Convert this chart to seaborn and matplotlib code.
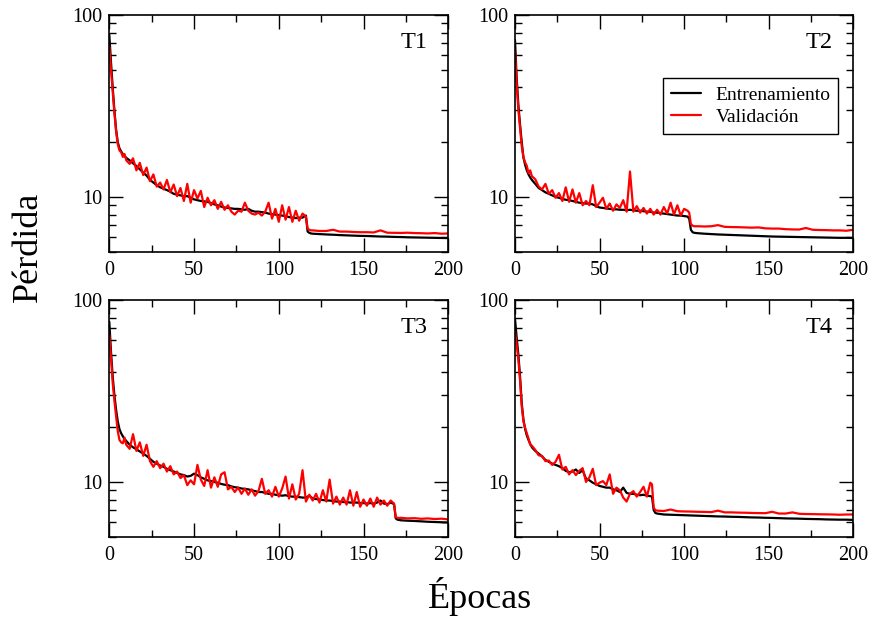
import matplotlib
matplotlib.use("Agg")
import matplotlib.pyplot as plt
import numpy as np
import pandas as pd
import seaborn as sns
from matplotlib.ticker import MultipleLocator, FixedLocator, LogLocator, NullFormatter, FuncFormatter

# ---------------- data ----------------
t1_epoch = list(range(0, 11)) + list(range(12, 117, 2)) + [117, 118, 119] + list(range(120, 201, 4))
t1_train = ([78, 55, 40, 30, 23.5, 20.0, 18.5, 17.8, 17.2, 16.8, 16.4] +
            [15.9, 15.3, 14.8, 14.2, 13.6, 13.1, 12.4, 12.0, 11.6, 11.3, 11.1, 10.9, 10.7, 10.4, 10.3, 10.2,
             10.1, 10.1, 9.9, 9.7, 9.6, 9.5, 9.45, 9.4, 9.25, 9.1, 9.0, 8.85, 8.75, 8.7, 8.65, 8.6, 8.6, 8.55,
             8.5, 8.6, 8.4, 8.3, 8.3, 8.25, 8.2, 8.1, 8.05, 8.0, 7.95, 7.9, 7.85, 7.75, 7.7, 7.65, 7.7, 7.7, 7.9] +
            [6.45, 6.35, 6.3] +
            [6.28, 6.25, 6.22, 6.2, 6.17, 6.15, 6.13, 6.11, 6.1, 6.08, 6.06, 6.05, 6.03, 6.02, 6.0, 5.99,
             5.98, 5.97, 5.96, 5.95, 5.94])
t1_val = ([67, 50, 38, 29, 23, 19.5, 18.0, 17.6, 16.6, 17.2, 15.9] +
          [15.2, 16.3, 14.0, 15.4, 13.2, 14.5, 12.2, 13.3, 11.4, 12.0, 11.0, 12.4, 10.6, 11.7, 10.1, 11.2,
           9.5, 11.8, 9.3, 10.9, 9.8, 10.8, 8.8, 9.9, 9.0, 9.6, 8.6, 9.4, 8.5, 9.0, 8.3, 8.0, 8.4, 8.3,
           9.3, 8.4, 8.1, 8.0, 8.2, 7.9, 8.3, 9.3, 7.6, 8.6, 7.3, 9.0, 7.5, 8.8, 7.3, 8.4, 7.4, 8.1, 7.8] +
          [6.7, 6.6, 6.55] +
          [6.55, 6.5, 6.5, 6.6, 6.45, 6.45, 6.42, 6.4, 6.4, 6.38, 6.55, 6.36, 6.35, 6.34, 6.36, 6.33,
           6.32, 6.3, 6.33, 6.28, 6.3])

t2_epoch = list(range(0, 11)) + list(range(12, 103, 2)) + [103, 104, 105, 106] + list(range(108, 201, 4))
t2_train = ([73, 45, 32, 25, 20, 16.5, 15.0, 14.0, 13.3, 12.8, 12.4] +
            [11.8, 11.2, 10.9, 10.6, 10.4, 10.2, 10.0, 9.9, 9.75, 9.65, 9.6, 9.5, 9.4, 9.3, 9.25, 9.2,
             9.2, 9.1, 8.9, 8.75, 8.7, 8.65, 8.6, 8.55, 8.55, 8.5, 8.5, 8.45, 8.5, 8.45, 8.4, 8.4, 8.35,
             8.3, 8.3, 8.2, 8.2, 8.15, 8.1, 8.05, 8.0, 7.95, 7.9, 7.9, 7.85, 7.8] +
            [7.6, 6.6, 6.4, 6.35] +
            [6.32, 6.28, 6.25, 6.22, 6.2, 6.18, 6.16, 6.14, 6.12, 6.1, 6.08, 6.06, 6.05, 6.04, 6.03,
             6.02, 6.01, 6.0, 5.99, 5.98, 5.97, 5.96, 5.96, 5.95])
t2_val = ([64, 42, 30, 24, 19, 16.5, 15.5, 14.8, 13.5, 14.0, 13.0] +
          [12.5, 11.4, 11.0, 11.8, 10.4, 10.9, 9.9, 10.5, 9.5, 11.3, 9.4, 11.0, 9.3, 10.5, 9.0, 9.5,
           9.0, 11.6, 8.8, 9.3, 9.9, 8.6, 9.2, 8.4, 9.1, 8.7, 9.6, 8.3, 13.8, 8.3, 8.9, 8.2, 8.7, 8.1,
           8.6, 8.0, 8.5, 8.0, 8.8, 8.1, 9.3, 8.0, 9.0, 7.9, 8.6, 8.4] +
          [8.2, 7.1, 6.95, 6.9] +
          [6.9, 6.88, 6.9, 7.0, 6.85, 6.83, 6.82, 6.8, 6.78, 6.8, 6.72, 6.7, 6.7, 6.65, 6.63, 6.62,
           6.75, 6.6, 6.58, 6.57, 6.55, 6.55, 6.52, 6.6])

t3_epoch = list(range(0, 11)) + list(range(12, 169, 2)) + [169, 170, 171] + list(range(172, 201, 4))
t3_train = ([76, 52, 38, 30, 25, 21.5, 19.5, 18.5, 17.8, 17.2, 16.8] +
            [16.0, 15.5, 15.1, 14.7, 14.3, 13.9, 13.4, 12.9, 12.6, 12.3, 12.1, 11.8, 11.6, 11.4, 11.2,
             11.0, 10.9, 10.7, 10.8, 11.1,
             10.9, 10.6, 10.4, 10.2, 10.1, 10.0, 9.9, 9.75, 9.65, 9.6, 9.45, 9.35, 9.3, 9.2, 9.15, 9.1,
             9.0, 8.9, 8.8, 8.8,
             8.7, 8.6, 8.6, 8.5, 8.45, 8.4, 8.45, 8.35, 8.3, 8.3, 8.25, 8.2, 8.2, 8.4, 8.1, 8.05, 8.0,
             7.95, 7.9, 7.9,
             7.85, 7.8, 7.8, 7.75, 7.75, 7.7, 7.7, 7.7, 7.65, 7.65, 7.6, 7.65, 7.6, 7.7, 7.9, 7.6, 7.55,
             7.7, 7.55] +
            [6.3, 6.2, 6.18] +
            [6.15, 6.12, 6.1, 6.07, 6.04, 6.02, 6.0, 5.98])
t3_val = ([64, 48, 35, 28, 23, 19, 17, 16.5, 16.3, 17.5, 16.0] +
          [15.2, 18.3, 14.8, 16.5, 13.9, 16.0, 13.0, 12.1, 13.0, 11.9, 12.6, 11.4, 12.2, 11.0, 11.4,
           10.5, 10.9, 9.6, 10.2, 9.7,
           12.4, 10.3, 9.5, 11.6, 9.3, 10.6, 9.4, 11.0, 11.3, 9.1, 9.4, 8.8, 9.3, 8.6, 9.2, 8.5, 9.1,
           8.4, 8.9, 10.4,
           8.6, 9.0, 8.3, 9.4, 8.3, 9.2, 10.7, 8.1, 9.7, 8.0, 8.6, 11.6, 7.8, 8.5, 7.9, 8.6, 7.7, 9.0,
           7.8, 10.3,
           7.6, 8.3, 7.5, 8.2, 7.5, 9.0, 7.4, 8.8, 7.3, 8.0, 7.4, 8.1, 7.3, 8.2, 7.5, 7.9, 7.4, 7.9,
           7.6] +
          [6.4, 6.35, 6.33] +
          [6.35, 6.3, 6.32, 6.27, 6.3, 6.25, 6.28, 6.22])

t4_epoch = list(range(0, 11)) + list(range(12, 81, 2)) + [81, 82, 83, 84] + list(range(88, 201, 4))
t4_train = ([79, 62, 50, 38, 27, 22, 19.5, 18, 17, 16.2, 15.5] +
            [14.8, 14.3, 13.8, 13.2, 12.9, 12.6, 12.4, 12.2, 11.9, 11.5, 11.3, 11.4, 11.7, 11.2, 11.6,
             10.4, 10.2, 9.9, 9.7, 9.5, 9.4, 9.3, 9.3, 9.1, 9.0, 8.8, 9.3, 8.7, 8.6, 8.6, 8.5, 8.45,
             8.5, 8.4, 8.35] +
            [8.3, 7.0, 6.75, 6.7] +
            [6.62, 6.6, 6.58, 6.56, 6.54, 6.52, 6.5, 6.48, 6.46, 6.45, 6.43, 6.42, 6.4, 6.38, 6.37,
             6.35, 6.34, 6.32, 6.3, 6.29, 6.28, 6.26, 6.25, 6.24, 6.22, 6.21, 6.2, 6.2, 6.18])
t4_val = ([67, 57, 47, 36, 26, 21.5, 19.8, 18.5, 17.3, 16.0, 15.8] +
          [15.0, 14.0, 13.9, 13.0, 13.1, 12.4, 12.9, 14.1, 11.7, 12.1, 11.0, 11.6, 10.9, 11.5, 11.9,
           10.0, 10.6, 11.8, 9.6, 9.9, 10.1, 9.6, 11.0, 8.6, 9.3, 9.0, 8.2, 7.8, 8.6, 8.9, 8.3, 8.8,
           9.4, 8.3, 9.9] +
          [9.7, 7.2, 7.0, 6.95] +
          [6.92, 7.05, 6.9, 6.88, 6.87, 6.85, 6.84, 6.82, 6.95, 6.8, 6.8, 6.78, 6.77, 6.75, 6.74,
           6.73, 6.85, 6.7, 6.7, 6.8, 6.68, 6.66, 6.65, 6.64, 6.63, 6.62, 6.6, 6.62, 6.62])

panel_names = ["T1", "T2", "T3", "T4"]
series_names = ["Entrenamiento", "Validación"]
x_ticks = [0, 50, 100, 150, 200]
y_ticks = [10, 100]

panels = [(t1_epoch, t1_train, t1_val), (t2_epoch, t2_train, t2_val),
          (t3_epoch, t3_train, t3_val), (t4_epoch, t4_train, t4_val)]

# ---------------- style ----------------
sns.set_theme(style="white")
plt.rcParams["font.family"] = ["Liberation Serif", "DejaVu Serif"]
plt.rcParams["axes.edgecolor"] = "black"
plt.rcParams["axes.linewidth"] = 1.2
plt.rcParams["text.color"] = "black"
plt.rcParams["axes.labelcolor"] = "black"
plt.rcParams["xtick.color"] = "black"
plt.rcParams["ytick.color"] = "black"

fig = plt.figure(figsize=(8.73, 6.18), dpi=100)
positions = [(0.1252, 0.5927, 0.3883, 0.3830), (0.5899, 0.5927, 0.3875, 0.3830),
             (0.1252, 0.1316, 0.3883, 0.3830), (0.5899, 0.1316, 0.3875, 0.3830)]
palette = {"Entrenamiento": "black", "Validación": "red"}

for i, ((ep, tr, va), name, pos) in enumerate(zip(panels, panel_names, positions)):
    assert len(ep) == len(tr) == len(va), (name, len(ep), len(tr), len(va))
    n = len(ep)
    df = pd.DataFrame({
        "Época": ep + ep,
        "Pérdida": tr + va,
        "Serie": [series_names[0]] * n + [series_names[1]] * n,
    })
    ax = fig.add_axes(pos)
    ax.set_yscale("log")
    sns.lineplot(data=df, x="Época", y="Pérdida", hue="Serie", palette=palette,
                 hue_order=series_names, estimator=None, sort=False, linewidth=1.6,
                 ax=ax, legend=(i == 1))
    ax.set_xlim(0, 200)
    ax.set_ylim(5, 100)
    ax.xaxis.set_major_locator(FixedLocator(x_ticks))
    ax.xaxis.set_minor_locator(MultipleLocator(25))
    ax.yaxis.set_major_locator(FixedLocator(y_ticks))
    ax.yaxis.set_minor_locator(LogLocator(base=10, subs=range(2, 10)))
    ax.yaxis.set_major_formatter(FuncFormatter(lambda v, p: f"{v:g}"))
    ax.yaxis.set_minor_formatter(NullFormatter())
    ax.tick_params(which="both", direction="in", top=True, right=True, bottom=True, left=True,
                   labelsize=14.5, width=1.0, colors="black")
    ax.tick_params(which="major", length=10)
    ax.tick_params(which="minor", length=5)
    ax.tick_params(axis="x", which="major", pad=7)
    ax.tick_params(axis="y", which="major", pad=5)
    ax.set_xlabel("")
    ax.set_ylabel("")
    for sp in ax.spines.values():
        sp.set_color("black")
        sp.set_linewidth(1.2)
    ax.text(0.94, 0.882, name, transform=ax.transAxes, ha="right", va="center",
            fontsize=17.5, color="black")
    if i == 1:
        handles, labels = ax.get_legend_handles_labels()
        leg = ax.legend(handles, labels, loc="upper right", bbox_to_anchor=(0.9557, 0.7326),
                        borderaxespad=0, frameon=True, fancybox=False, edgecolor="black",
                        framealpha=1, fontsize=14, handlelength=1.55, handletextpad=0.75,
                        borderpad=0.4, labelspacing=0.25)
        leg.get_frame().set_linewidth(1.0)
        for t in leg.get_texts():
            t.set_color("black")
        for h in leg.get_lines():
            h.set_linewidth(1.6)

fig.text(480 / 873, 1 - 596.7 / 618, "Épocas", ha="center", va="center", fontsize=26, color="black")
fig.text(28 / 873, 1 - 247 / 618, "Pérdida", rotation=90, ha="center", va="center", fontsize=26,
         color="black")

fig.savefig("out.png", dpi=100)
